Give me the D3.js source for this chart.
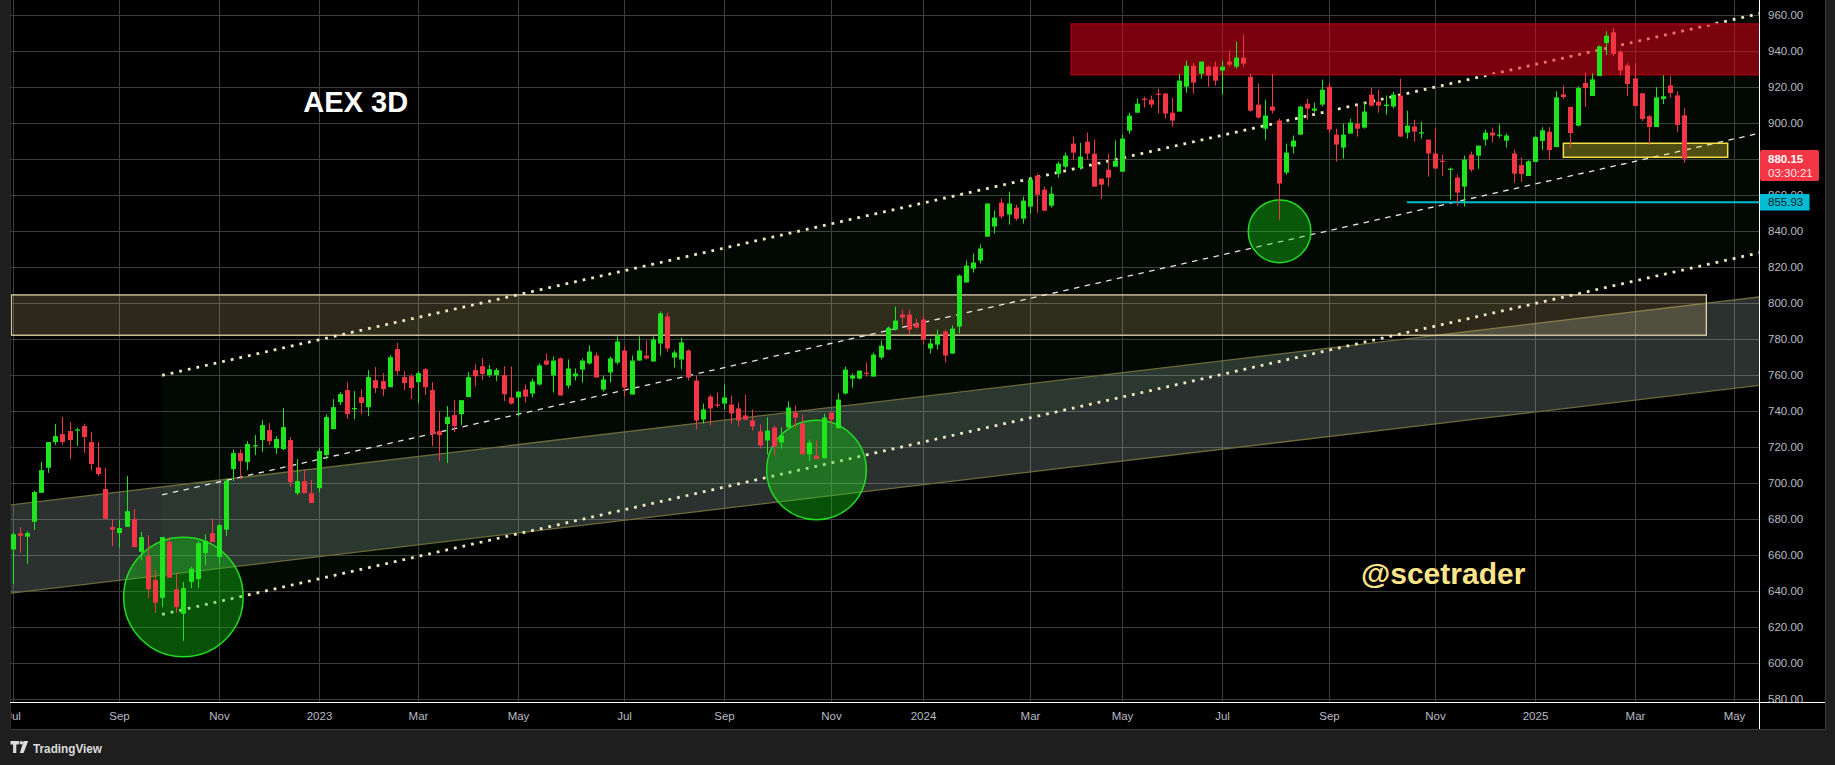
<!DOCTYPE html>
<html><head><meta charset="utf-8">
<script src="https://cdn.jsdelivr.net/npm/d3@7"></script>
<style>html,body{margin:0;padding:0;background:#1e1e1e;overflow:hidden}svg{display:block}</style>
</head><body><svg id="c" width="1835" height="765"></svg>
<script>
// ---------------- DATA ----------------
const opens=[662.9,671.8,670.0,678.3,694.4,708.3,722.6,727.0,728.7,728.9,
731.5,722.6,708.5,696.5,675.3,672.0,675.5,679.8,661.6,659.2,
645.9,636.0,667.0,640.7,627.2,644.9,646.4,660.9,672.0,658.7,
673.9,707.6,716.5,711.5,720.4,723.7,729.3,719.2,718.7,723.7,
694.2,700.9,694.2,697.0,715.4,729.8,744.8,751.5,740.9,747.6,
742.0,757.0,756.5,753.1,774.3,758.7,759.2,755.9,763.1,751.5,
728.7,732.6,737.6,738.1,747.6,762.6,764.8,759.8,759.8,759.8,
747.4,747.4,751.8,749.6,754.6,767.9,759.6,769.1,754.0,759.1,
762.9,766.3,770.7,751.8,761.3,766.8,773.5,749.0,767.9,770.7,
767.4,777.4,792.4,769.6,768.5,773.5,756.8,735.1,747.9,743.5,
744.0,743.5,741.3,737.4,734.6,728.5,723.5,730.7,722.4,730.7,
739.0,732.9,715.8,715.1,713.6,739.0,730.3,749.6,757.9,757.9,
761.2,759.0,769.6,774.0,785.1,793.5,793.5,788.5,790.7,774.6,
776.8,784.0,771.8,786.8,811.3,819.0,823.5,836.8,842.4,855.7,
849.1,852.9,846.8,853.5,870.7,862.9,854.0,871.8,875.7,888.5,
875.1,889.6,882.9,869.0,874.0,875.7,872.9,895.7,905.7,913.5,
912.9,916.3,916.3,905.7,906.3,920.2,931.8,927.4,931.3,931.3,
929.1,934.1,931.3,936.3,925.7,910.2,896.8,909.1,901.3,872.4,
886.8,893.5,910.7,906.8,910.2,920.2,893.5,886.3,894.1,899.6,
897.4,915.7,911.8,909.4,909.1,915.2,894.6,898.0,894.4,890.7,
883.0,879.0,874.0,869.6,864.6,882.4,881.8,890.7,894.6,893.1,
890.2,883.0,876.6,870.5,878.3,890.0,895.1,886.6,915.9,908.9,
898.5,922.2,915.0,926.1,944.4,950.4,939.4,932.0,924.8,916.5,
903.7,897.7,913.3,920.9,915.3,904.2];
const highs=[672.7,675.3,673.1,695.5,711.5,722.6,732.6,736.5,733.7,730.6,
732.8,728.1,722.6,708.1,679.6,679.2,703.7,685.3,672.7,670.9,
651.4,669.8,669.8,650.0,644.9,653.3,667.6,671.4,680.2,677.0,
702.2,718.5,718.5,723.1,726.5,734.8,733.1,725.9,741.5,725.4,
713.1,707.0,701.5,719.2,738.1,746.5,750.4,755.9,750.9,752.0,
762.6,764.3,760.9,770.9,777.6,762.0,760.4,762.0,763.7,755.9,
739.8,742.6,745.9,745.9,761.5,765.9,769.3,765.4,763.7,764.8,
764.6,750.7,754.6,757.9,766.3,771.8,770.2,769.6,768.5,763.5,
769.1,776.3,772.4,759.6,770.2,781.3,775.7,770.7,781.3,779.1,
781.3,795.2,794.6,773.5,780.7,774.1,759.6,744.0,749.0,750.2,
754.6,748.5,744.6,749.0,740.7,732.4,736.3,731.8,730.7,745.2,
742.9,737.9,724.0,723.4,738.4,739.0,749.6,764.6,760.7,762.3,
766.8,772.4,779.0,786.8,797.9,796.2,796.2,791.2,792.4,780.1,
785.1,785.1,787.4,815.7,823.5,827.4,832.4,855.2,851.3,858.0,
861.8,854.6,859.0,870.1,871.8,864.6,864.6,878.5,883.5,892.4,
889.0,894.6,890.7,869.0,882.9,890.2,893.5,905.7,913.5,914.6,
915.2,919.1,916.8,914.1,927.4,934.6,933.5,934.1,931.8,934.1,
934.6,940.2,945.2,949.1,927.4,921.9,913.0,927.4,902.4,888.5,
893.0,909.6,913.5,911.3,924.1,922.4,896.8,899.6,902.4,909.6,
911.3,919.6,918.5,915.2,917.4,924.6,906.8,901.8,900.7,890.7,
896.8,882.4,875.2,871.3,881.8,884.1,887.4,896.3,897.4,899.1,
894.1,885.2,880.9,879.2,892.7,897.6,897.6,917.6,920.9,908.9,
920.3,928.1,927.6,943.1,950.9,952.6,940.5,933.3,933.1,916.5,
904.4,919.8,926.5,925.9,917.6,908.1];
const lows=[643.7,661.1,655.0,673.7,694.4,705.5,721.1,721.1,713.1,720.5,
716.7,707.0,703.7,680.0,664.8,663.8,675.5,664.2,657.0,636.0,
627.7,631.0,647.2,627.7,612.1,641.4,641.4,654.2,667.0,655.0,
670.5,700.9,702.0,707.0,715.4,717.0,720.9,715.9,718.1,697.6,
693.1,694.2,688.7,694.8,713.1,729.8,743.1,735.4,735.4,738.1,
737.0,749.8,748.1,753.1,759.8,751.5,746.5,744.2,748.7,720.3,
712.0,710.9,728.1,732.0,747.6,753.7,757.0,758.7,756.5,745.4,
743.5,736.8,744.6,747.4,754.0,765.2,750.2,748.5,752.4,756.8,
755.7,765.7,758.5,750.7,755.7,765.7,747.9,749.0,767.9,768.5,
767.4,770.7,772.9,764.1,762.9,756.8,729.6,732.9,731.8,741.8,
740.7,732.9,731.3,734.6,729.0,719.0,715.7,715.1,719.0,730.7,
730.7,715.8,711.9,713.2,713.6,732.7,730.3,749.0,752.9,757.4,
759.0,759.0,768.5,774.0,784.6,787.9,782.4,785.7,776.8,771.8,
774.0,766.8,771.8,782.9,811.3,816.8,821.8,836.8,838.5,846.8,
843.5,845.7,844.0,849.6,850.1,851.2,852.9,869.6,874.6,879.6,
874.0,879.6,864.6,857.9,864.6,875.7,872.9,894.0,905.7,908.5,
908.5,905.2,902.4,897.9,906.3,916.8,916.3,924.6,920.2,920.7,
915.7,931.3,930.2,931.3,906.3,902.4,890.7,905.2,846.0,871.3,
883.0,893.5,901.8,905.7,909.1,894.1,878.5,880.2,894.1,892.4,
896.8,909.1,905.7,904.6,908.0,892.4,891.3,889.6,891.3,870.2,
874.6,870.7,857.4,854.0,853.5,872.9,874.6,887.4,889.1,891.8,
886.3,866.8,867.2,870.5,878.3,885.0,879.4,886.6,913.3,886.1,
898.1,908.9,915.0,926.1,937.8,937.2,926.6,915.0,909.4,901.1,
887.7,897.7,910.5,913.9,895.0,877.7];
const closes=[671.4,670.5,672.0,694.8,707.0,722.6,725.9,722.6,723.7,729.6,
725.4,710.4,704.8,680.0,673.9,674.8,684.2,664.2,669.8,640.7,
633.3,669.8,647.2,630.9,641.4,652.2,666.4,667.6,667.0,676.4,
701.1,716.5,712.0,721.5,720.9,732.0,723.1,724.3,730.9,700.3,
700.9,694.2,688.7,717.6,736.5,742.0,749.3,738.1,741.5,744.3,
758.7,752.6,752.0,769.8,762.0,755.4,752.6,760.9,753.1,727.0,
726.5,736.5,731.5,745.9,758.7,759.2,760.4,763.1,762.6,749.2,
744.0,750.7,747.9,756.3,765.2,765.7,767.9,748.5,763.5,760.7,
767.9,772.9,758.5,757.4,769.1,778.5,752.9,767.9,773.5,769.1,
779.6,794.1,774.6,772.4,778.0,758.5,734.6,740.7,741.3,742.9,
747.4,738.5,734.6,735.1,731.3,720.7,729.0,720.1,726.3,741.8,
736.2,715.8,722.3,713.2,736.2,735.1,746.2,762.9,759.6,762.3,
760.7,771.2,776.2,786.2,790.1,791.8,785.1,786.2,779.6,777.4,
781.8,770.7,785.7,815.1,820.7,822.4,830.2,855.2,847.4,848.0,
855.2,846.8,856.8,868.5,860.1,851.2,860.7,877.4,881.8,883.5,
881.3,882.9,864.6,865.7,869.6,879.0,891.3,904.1,910.7,912.9,
910.2,915.7,905.2,901.3,923.5,931.8,922.4,934.1,926.3,923.5,
931.3,932.4,936.3,933.0,906.8,903.0,904.1,906.8,866.3,883.5,
890.2,909.1,908.0,908.0,918.5,896.3,888.0,893.5,900.2,896.8,
906.3,909.6,909.6,910.2,915.7,892.4,898.5,895.2,894.8,883.0,
874.6,878.5,874.6,861.3,879.6,874.0,887.4,894.6,893.0,893.5,
893.0,871.8,871.6,878.7,892.2,895.9,884.9,914.2,914.4,894.4,
919.4,919.4,924.2,942.6,948.5,938.3,929.2,921.6,909.4,902.2,
897.7,914.2,914.8,916.6,898.9,880.15];

const priceTicks = d3.range(580, 961, 20);
const tickMonths = ["2022-07-01","2022-09-01","2022-11-01","2023-01-01","2023-03-01","2023-05-01","2023-07-01","2023-09-01","2023-11-01","2024-01-01","2024-03-01","2024-05-01","2024-07-01","2024-09-01","2024-11-01","2025-01-01","2025-03-01","2025-05-01"];
const tickLabels = ["Jul","Sep","Nov","2023","Mar","May","Jul","Sep","Nov","2024","Mar","May","Jul","Sep","Nov","2025","Mar","May"];
const holidays = ["2022-12-26","2023-04-07","2023-04-10","2023-05-01","2023-12-25","2023-12-26","2024-01-01","2024-03-29","2024-04-01","2024-05-01","2024-12-25","2024-12-26","2025-01-01"];
const lastBarStart = "2025-04-01";
const lastPrice = 880.15, countdown = "03:30:21", alertPrice = 855.93;

// drawings, in (bar index, price)
const channelStart = [21, 759.7], channelEnd = [235, 951.3];   // upper line
const channelWidth = 132.9;
const bandTop = [[0, 687.8],[235, 798.3]], bandBottom = [[0, 638.7],[235, 749.2]];
const brownZone = {i0:-0.2, i1:238.1, p0:782.0, p1:804.4};
const redZone = {i0:148.8, i1:260, p0:926.8, p1:955.0};
const yellowZone = {i0:218.0, i1:241.1, p0:880.9, p1:888.7};
const alertStartIdx = 196;
const circleCenters = [[24.0,636.5],[113.0,707.1],[178.1,839.7]];
const circleEdgeIdx = [32.4, 120.0, 182.5];

// ---------------- CALENDAR ----------------
const parse = d3.utcParse("%Y-%m-%d"), fmt = d3.utcFormat("%Y-%m-%d");
const hol = new Set(holidays);
const anchor = parse(lastBarStart);
const days = [];
for (let d = parse("2022-05-01"); d <= parse("2025-06-30"); d = d3.utcDay.offset(d,1)) {
  const wd = d.getUTCDay(); if (wd===0||wd===6) continue;
  if (d <= anchor && hol.has(fmt(d))) continue;
  days.push(d);
}
const A = days.findIndex(d => +d === +anchor);
const N = closes.length, last = N-1;
const barDates = d3.range(N).map(k => days[A - 3*(last-k)]);
function monthIndex(s){ const m = parse(s); const j = days.findIndex(d => d >= m); return last + Math.floor((j - A)/3); }

// ---------------- SCALES ----------------
const PL=10, PR=1759, PT=0, PB=702;
const x = d3.scaleLinear().domain([0,last]).range([12.7,1684.3]);
const y = d3.scaleLinear().domain([580,960]).range([698.6,15]);

const svg = d3.select("#c");
svg.append("rect").attr("width",1835).attr("height",765).attr("fill","#1e1e1e");
svg.append("rect").attr("x",10).attr("y",0).attr("width",1815).attr("height",729).attr("fill","#000");
svg.append("path").attr("d","M10.5,729.5H1825.5V0").attr("fill","none").attr("stroke","#3a3a3a");
svg.append("line").attr("x1",10.5).attr("x2",10.5).attr("y1",0).attr("y2",729).attr("stroke","#2a2a2a");

const defs = svg.append("defs");
defs.append("clipPath").attr("id","plot").append("rect").attr("x",PL+1).attr("y",PT).attr("width",PR-PL-1).attr("height",PB-PT);
defs.append("clipPath").attr("id","taxis").append("rect").attr("x",PL+1).attr("y",PB).attr("width",PR-PL-1).attr("height",27);

const g = svg.append("g").attr("clip-path","url(#plot)");

// grid
const tickIdx = tickMonths.map(monthIndex);
g.selectAll("line.hg").data(priceTicks).join("line")
  .attr("x1",PL).attr("x2",PR).attr("y1",d=>Math.round(y(d))+0.5).attr("y2",d=>Math.round(y(d))+0.5)
  .attr("stroke","#3d3d3d");
g.selectAll("line.vg").data(tickIdx).join("line")
  .attr("x1",d=>Math.round(x(d))+0.5).attr("x2",d=>Math.round(x(d))+0.5).attr("y1",PT).attr("y2",PB)
  .attr("stroke","#3d3d3d");

// channel
const slope = (channelEnd[1]-channelStart[1])/(channelEnd[0]-channelStart[0]);
const upP = i => channelStart[1] + (i-channelStart[0])*slope;
const loP = i => upP(i) - channelWidth;
const midP = i => upP(i) - channelWidth/2;
const iEnd = 260;
g.append("path").attr("d", d3.area().x(d=>x(d)).y0(d=>y(loP(d))).y1(d=>y(upP(d)))([channelStart[0], iEnd]))
  .attr("fill","rgba(40,200,80,0.045)");

// gray band
const bT = i => bandTop[0][1] + (i-bandTop[0][0])*(bandTop[1][1]-bandTop[0][1])/(bandTop[1][0]-bandTop[0][0]);
const bB = i => bandBottom[0][1] + (i-bandBottom[0][0])*(bandBottom[1][1]-bandBottom[0][1])/(bandBottom[1][0]-bandBottom[0][0]);
g.append("path").attr("d", d3.area().x(d=>x(d)).y0(d=>y(bB(d))).y1(d=>y(bT(d)))([-5, iEnd]))
  .attr("fill","rgba(200,232,215,0.21)");
[bT,bB].forEach(f=>g.append("line").attr("x1",x(-5)).attr("x2",x(iEnd)).attr("y1",y(f(-5))).attr("y2",y(f(iEnd)))
  .attr("stroke","#6f6a3a").attr("stroke-width",1.3));

// brown zone
g.append("rect").attr("x",x(brownZone.i0)).attr("width",x(brownZone.i1)-x(brownZone.i0))
  .attr("y",y(brownZone.p1)).attr("height",y(brownZone.p0)-y(brownZone.p1))
  .attr("fill","rgba(255,215,150,0.18)").attr("stroke","#e2d3ad").attr("stroke-width",1.3);

// channel lines
const dotted = {stroke:"#efe7bf","stroke-width":2.8,"stroke-dasharray":"2.8 6"};
[upP, loP].forEach(f=>{
  const l = g.append("line").attr("x1",x(channelStart[0])).attr("x2",x(iEnd)).attr("y1",y(f(channelStart[0]))).attr("y2",y(f(iEnd)));
  Object.entries(dotted).forEach(([k,v])=>l.attr(k,v));
});
g.append("line").attr("x1",x(channelStart[0])).attr("x2",x(iEnd)).attr("y1",y(midP(channelStart[0]))).attr("y2",y(midP(iEnd)))
  .attr("stroke","#e6e6e6").attr("stroke-width",1.3).attr("stroke-dasharray","5.5 5.5");

// circles
g.selectAll("circle.z").data(circleCenters).join("circle")
  .attr("cx",d=>x(d[0])).attr("cy",d=>y(d[1])).attr("r",(d,i)=>x(circleEdgeIdx[i])-x(d[0]))
  .attr("fill","rgba(20,215,20,0.38)").attr("stroke","#22dd22").attr("stroke-width",1.5);

// red zone
g.append("rect").attr("x",x(redZone.i0)).attr("width",x(redZone.i1)-x(redZone.i0))
  .attr("y",y(redZone.p1)).attr("height",y(redZone.p0)-y(redZone.p1))
  .attr("fill","rgba(242,0,24,0.5)").attr("stroke","#9c0013").attr("stroke-width",1.6);

// yellow zone
g.append("rect").attr("x",x(yellowZone.i0)).attr("width",x(yellowZone.i1)-x(yellowZone.i0))
  .attr("y",y(yellowZone.p1)).attr("height",y(yellowZone.p0)-y(yellowZone.p1))
  .attr("fill","rgba(255,235,59,0.3)").attr("stroke","#f2de45").attr("stroke-width",1.5);

// alert line
g.append("line").attr("x1",x(alertStartIdx)).attr("x2",PR).attr("y1",y(alertPrice)).attr("y2",y(alertPrice))
  .attr("stroke","#00bcd4").attr("stroke-width",2);

// candles
const UP="#1ee51e", DN="#f23645";
const col = i => closes[i] >= opens[i] ? UP : DN;
const cg = g.append("g");
cg.selectAll("line").data(d3.range(N)).join("line")
  .attr("x1",i=>Math.round(x(i))+0.5).attr("x2",i=>Math.round(x(i))+0.5)
  .attr("y1",i=>y(highs[i])).attr("y2",i=>y(lows[i])).attr("stroke",col).attr("stroke-width",1);
cg.selectAll("rect").data(d3.range(N)).join("rect")
  .attr("x",i=>Math.round(x(i))-2).attr("width",5)
  .attr("y",i=>y(Math.max(opens[i],closes[i])))
  .attr("height",i=>Math.max(1.2, Math.abs(y(opens[i])-y(closes[i])))).attr("fill",col);

// texts
g.append("text").attr("x",x(40.86)).attr("y",y(905.9)).text("AEX 3D")
  .attr("font-family","'Liberation Sans',Arial,sans-serif").attr("font-weight","bold").attr("font-size",29).attr("fill","#ffffff");
g.append("text").attr("x",x(189.55)).attr("y",y(643.7)).text("@scetrader")
  .attr("font-family","'Liberation Sans',Arial,sans-serif").attr("font-weight","bold").attr("font-size",30).attr("fill","#ffe58a");

// axis borders
svg.append("line").attr("x1",PL).attr("x2",1825).attr("y1",PB+0.5).attr("y2",PB+0.5).attr("stroke","#ffffff");
svg.append("line").attr("x1",PR+0.5).attr("x2",PR+0.5).attr("y1",0).attr("y2",729).attr("stroke","#ffffff");

// price axis labels (the 860 label sits partly under the price tags, as in the original)
const font="'Liberation Sans',Arial,sans-serif";
svg.selectAll("text.py").data(priceTicks).join("text").attr("class","py")
  .attr("x",1768).attr("y",d=>y(d)).attr("dy","0.36em").text(d=>d3.format(".2f")(d))
  .attr("font-family",font).attr("font-size",11.5).attr("fill","#b8bbc2");

// time axis labels
svg.append("g").attr("clip-path","url(#taxis)").selectAll("text").data(tickIdx).join("text")
  .attr("x",d=>Math.round(x(d))+0.5).attr("y",720).attr("text-anchor","middle").text((d,i)=>tickLabels[i])
  .attr("font-family",font).attr("font-size",11.5).attr("fill","#b8bbc2");

// price tags
const ly = y(lastPrice);
svg.append("rect").attr("x",1760).attr("y",ly-8.6).attr("width",59).attr("height",31).attr("rx",2).attr("fill","#f23645");
svg.append("text").attr("x",1768).attr("y",ly+4.4).text(d3.format(".2f")(lastPrice))
  .attr("font-family",font).attr("font-weight","bold").attr("font-size",11.5).attr("fill","#ffffff");
svg.append("text").attr("x",1768).attr("y",ly+18.5).text(countdown)
  .attr("font-family",font).attr("font-size",11.5).attr("fill","#fde2e4");
const ay = y(alertPrice);
svg.append("rect").attr("x",1760).attr("y",ay-8.2).attr("width",49.5).attr("height",16.5).attr("fill","#00bcd4");
svg.append("text").attr("x",1768).attr("y",ay).attr("dy","0.36em").text(d3.format(".2f")(alertPrice))
  .attr("font-family",font).attr("font-size",11.5).attr("fill","#0b1a22");

// logo
const lg = svg.append("g").attr("fill","#dcdcdc");
lg.append("path").attr("d","M10.5,741h8.4v3.4h-2.6v8.6h-3.2v-8.6h-2.6z");
lg.append("circle").attr("cx",21.2).attr("cy",742.8).attr("r",1.8);
lg.append("path").attr("d","M23.6,741h4.6l-4.6,12h-3.8z");
svg.append("text").attr("x",33).attr("y",752.5).text("TradingView").attr("textLength",69).attr("lengthAdjust","spacingAndGlyphs")
  .attr("font-family",font).attr("font-weight","bold").attr("font-size",13).attr("fill","#dcdcdc");
</script></body></html>
